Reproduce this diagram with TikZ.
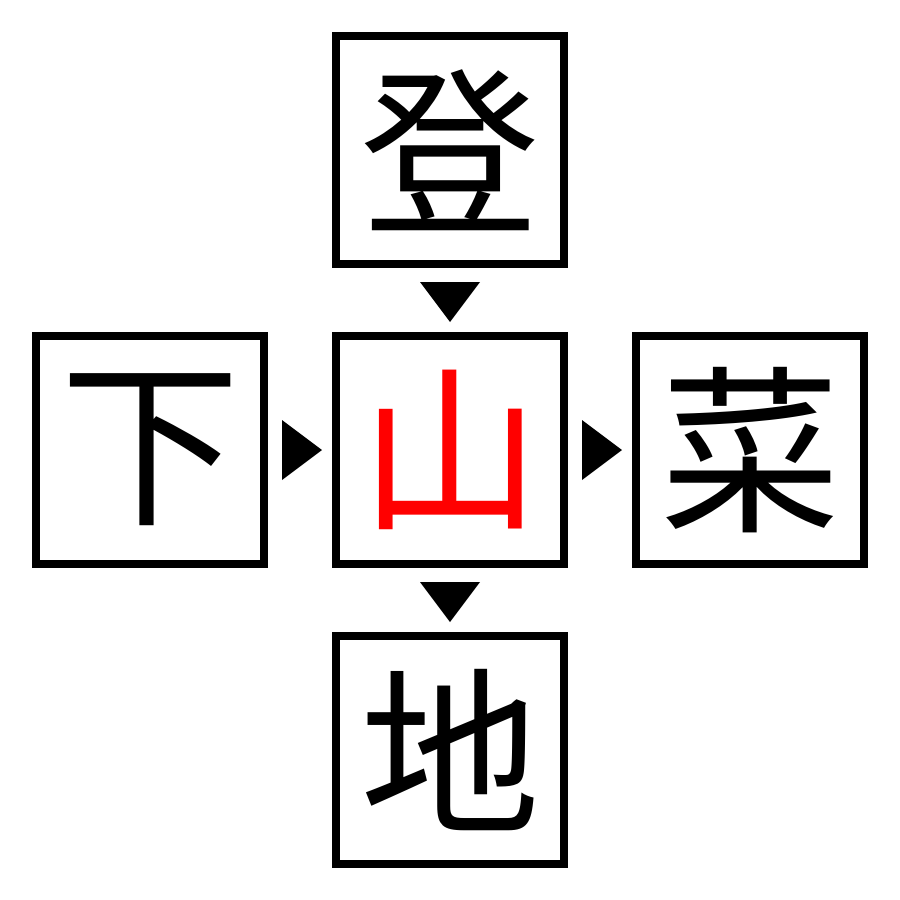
\documentclass[tikz,border=0pt]{standalone}
\usepackage{fontspec}
\newfontfamily\cjk{Noto Sans CJK JP}
\usetikzlibrary{calc}
\begin{document}
\begin{tikzpicture}[x=1pt,y=-1pt,
  box/.style={draw=black,line width=8pt,minimum width=228pt,minimum height=228pt,inner sep=0pt,font=\cjk\fontsize{180}{180}\selectfont},
  tri/.style={fill=black}]
\useasboundingbox (0,0) rectangle (900,900);
\node[box] (top) at (450,150) {登};
\node[box] (left) at (150,450) {下};
\node[box,text=red] (mid) at (450,450) {山};
\node[box] (right) at (750,450) {菜};
\node[box] (bot) at (450,750) {地};
\fill[tri] ($(top.south)+(-30,14)$) -- ($(top.south)+(30,14)$) -- ($(top.south)+(0,54)$) -- cycle;
\fill[tri] ($(mid.south)+(-30,14)$) -- ($(mid.south)+(30,14)$) -- ($(mid.south)+(0,54)$) -- cycle;
\fill[tri] ($(left.east)+(14,-30)$) -- ($(left.east)+(14,30)$) -- ($(left.east)+(54,0)$) -- cycle;
\fill[tri] ($(mid.east)+(14,-30)$) -- ($(mid.east)+(14,30)$) -- ($(mid.east)+(54,0)$) -- cycle;
\end{tikzpicture}
\end{document}
